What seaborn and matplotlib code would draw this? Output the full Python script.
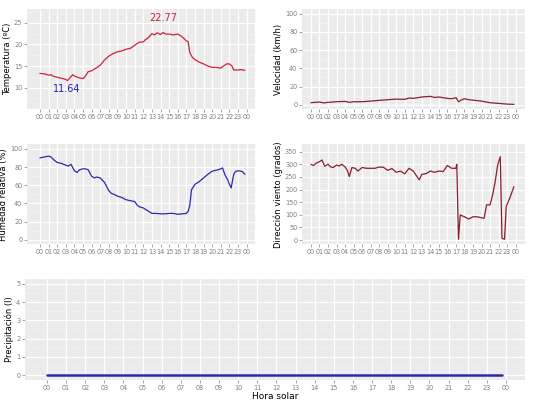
import matplotlib
matplotlib.use("Agg")
import matplotlib.pyplot as plt
import seaborn as sns
import pandas as pd
from matplotlib.ticker import MultipleLocator, FixedLocator

# ---------------- data ----------------
temp_hours = [0, 0.5, 1, 1.3, 1.5, 2, 2.5, 3, 3.2, 3.5, 3.8, 4, 4.5, 5, 5.3, 5.6, 6, 6.5, 7,
              7.5, 8, 8.5, 9, 9.5, 10, 10.5, 11, 11.5, 12, 12.3, 12.5, 13, 13.3, 13.6, 14,
              14.3, 14.6, 15, 15.5, 16, 16.5, 17, 17.2, 17.4, 17.7, 18, 18.5, 19, 19.5, 20,
              20.5, 21, 21.3, 21.7, 22, 22.3, 22.5, 23, 23.3, 23.8]
temp_vals = [13.3, 13.2, 12.9, 13.0, 12.7, 12.4, 12.2, 11.9, 11.64, 12.3, 13.0, 12.7, 12.3,
             12.1, 12.7, 13.7, 13.9, 14.5, 15.2, 16.4, 17.3, 17.9, 18.3, 18.5, 18.9, 19.1,
             19.8, 20.5, 20.6, 21.2, 21.4, 22.5, 22.2, 22.7, 22.3, 22.77, 22.4, 22.4, 22.2,
             22.4, 21.8, 20.8, 20.7, 18.1, 17.0, 16.5, 15.9, 15.5, 15.0, 14.7, 14.7, 14.5,
             15.0, 15.5, 15.5, 15.0, 14.1, 14.1, 14.2, 14.0]
temp_max_label = "22.77"
temp_min_label = "11.64"

wind_hours = [0, 1, 1.5, 2, 3, 4, 4.5, 5, 6, 7, 8, 9, 10, 11, 11.5, 12, 13, 14, 14.5, 15,
              16, 16.5, 17, 17.3, 17.7, 18, 18.5, 19, 20, 21, 22, 23, 23.8]
wind_vals = [2.2, 3.0, 2.0, 2.6, 3.3, 3.7, 2.6, 3.3, 3.3, 4.0, 4.8, 5.5, 6.2, 5.9, 7.4, 7.0,
             8.5, 9.2, 8.0, 8.5, 7.0, 6.6, 7.7, 3.3, 5.5, 6.6, 5.5, 5.0, 4.0, 2.2, 1.5, 0.7, 0.4]

hum_hours = [0, 0.5, 1, 1.3, 1.6, 2, 2.5, 3, 3.3, 3.6, 4, 4.3, 4.6, 5, 5.3, 5.6, 6, 6.3, 6.6,
             7, 7.5, 8, 8.3, 8.6, 9, 9.5, 10, 10.5, 11, 11.3, 11.6, 12, 12.5, 13, 13.5, 14,
             14.5, 15, 15.5, 16, 16.5, 17, 17.2, 17.4, 17.6, 18, 18.5, 19, 19.5, 20, 20.5,
             21, 21.2, 21.5, 21.8, 22, 22.2, 22.5, 22.7, 23, 23.5, 23.8]
hum_vals = [90, 91, 92, 91, 88, 85, 84, 82, 81, 83, 76, 74, 77, 78, 78, 77, 70, 68, 69,
            68, 63, 54, 51, 50, 48, 46.5, 44, 43, 42, 38, 36, 35, 32, 29, 29, 28.5,
            28.5, 29, 29, 28, 28.5, 29, 31, 38, 55, 61, 64, 68, 72, 75.5, 76.5,
            78, 79, 71, 66, 61, 57, 72, 75, 76, 75, 72]

dir_hours = [0, 0.3, 0.6, 1, 1.3, 1.6, 2, 2.3, 2.6, 3, 3.3, 3.6, 4, 4.3, 4.5, 4.8, 5.2, 5.5,
             6, 6.5, 7, 7.5, 8, 8.5, 9, 9.5, 10, 10.5, 11, 11.5, 12, 12.3, 12.7, 13, 13.5,
             14, 14.5, 15, 15.5, 16, 16.5, 17, 17.1, 17.3, 17.5, 18, 18.5, 19, 19.5, 20,
             20.3, 20.6, 21, 21.3, 21.6, 21.9, 22.2, 22.4, 22.7, 22.9, 23.3, 23.8]
dir_vals = [300, 295, 304, 310, 317, 292, 300, 290, 287, 297, 293, 300, 290, 273, 251, 287,
            284, 273, 287, 284, 284, 284, 289, 288, 276, 283, 268, 273, 262, 284, 273, 258,
            238, 260, 263, 273, 268, 273, 271, 295, 284, 284, 300, 3, 99, 92, 83, 92, 92,
            88, 86, 139, 139, 178, 231, 297, 330, 7, 3, 132, 165, 211]

precip_hours = [0, 6, 12, 18, 23.8]
precip_vals = [0, 0, 0, 0, 0]

hour_ticks = list(range(0, 25))
hour_labels = ["00", "01", "02", "03", "04", "05", "06", "07", "08", "09", "10", "11", "12",
               "13", "14", "15", "16", "17", "18", "19", "20", "21", "22", "23", "00"]

# ---------------- style ----------------
sns.set_theme(style="darkgrid", rc={
    "axes.facecolor": "#EBEBEB",
    "grid.color": "white",
    "axes.edgecolor": "#EBEBEB",
})
plt.rcParams["font.family"] = ["DejaVu Sans"]

W, H = 540, 405
fig = plt.figure(figsize=(5.4, 4.05), dpi=100)

def frac(l, r, t, b):
    return [l / W, 1 - b / H, (r - l) / W, (b - t) / H]

ax_t = fig.add_axes(frac(27, 255, 9, 109.3))
ax_v = fig.add_axes(frac(302, 525, 9, 109.3))
ax_h = fig.add_axes(frac(27, 255, 144.3, 244.3))
ax_d = fig.add_axes(frac(302, 525, 144.3, 244.3))
ax_p = fig.add_axes(frac(25, 525, 279, 380))

red = "#D0203F"
maroon = "#8A1F2E"
blue = "#2A2AA8"

sns.lineplot(x=temp_hours, y=temp_vals, ax=ax_t, color=red, lw=0.9)
sns.lineplot(x=wind_hours, y=wind_vals, ax=ax_v, color=maroon, lw=0.9)
sns.lineplot(x=hum_hours, y=hum_vals, ax=ax_h, color=blue, lw=0.9)
sns.lineplot(x=dir_hours, y=dir_vals, ax=ax_d, color=maroon, lw=0.9)
sns.lineplot(x=precip_hours, y=precip_vals, ax=ax_p, color=blue, lw=1.8)

ax_t.text(14.3, 26.1, temp_max_label, color=red, fontsize=7, ha="center", va="center")
ax_t.text(3.15, 9.7, temp_min_label, color="#2020C0", fontsize=7, ha="center", va="center")

def style(ax, xlim, ylim, yticks, yminor, ylabel):
    ax.set_xlim(*xlim)
    ax.set_ylim(*ylim)
    ax.xaxis.set_major_locator(FixedLocator(hour_ticks))
    ax.set_xticklabels(hour_labels)
    ax.set_yticks(yticks)
    ax.yaxis.set_minor_locator(FixedLocator(yminor))
    ax.grid(which="major", color="white", lw=0.9)
    ax.grid(which="minor", axis="y", color="#F5F5F5", lw=0.4)
    ax.tick_params(axis="both", which="major", length=2, width=0.5, color="#7F7F7F",
                   labelcolor="#7F7F7F", labelsize=4.7, pad=1.5, bottom=True, left=True)
    ax.tick_params(axis="both", which="minor", length=0)
    ax.set_ylabel(ylabel, fontsize=6.0, color="black", labelpad=1.5)
    ax.set_xlabel("")
    for s in ax.spines.values():
        s.set_visible(False)

style(ax_t, (-1.5, 24.97), (5.0, 28.2), [10, 15, 20, 25], [7.5, 12.5, 17.5, 22.5, 27.5],
      "Temperatura (ºC)")
style(ax_v, (-1.05, 25.1), (-5, 105), [0, 20, 40, 60, 80, 100], [10, 30, 50, 70, 90],
      "Velocidad (km/h)")
style(ax_h, (-1.5, 24.97), (-5, 105), [0, 20, 40, 60, 80, 100], [10, 30, 50, 70, 90],
      "Humedad relativa (%)")
style(ax_d, (-1.05, 25.1), (-17, 379), [0, 50, 100, 150, 200, 250, 300, 350],
      [25, 75, 125, 175, 225, 275, 325, 375], "Dirección viento (grados)")
style(ax_p, (-1.15, 25.0), (-0.27, 5.27), [0, 1, 2, 3, 4, 5],
      [0.5, 1.5, 2.5, 3.5, 4.5], "Precipitación (l)")
ax_p.set_xlabel("Hora solar", fontsize=6.5, color="black", labelpad=1)

fig.savefig("out.png", dpi=100)
